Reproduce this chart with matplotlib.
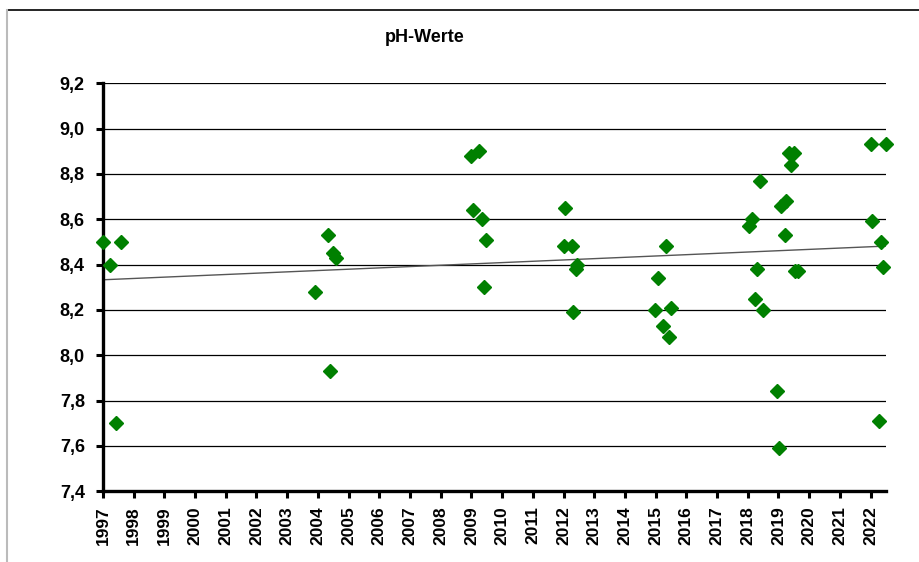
import numpy as np
import matplotlib.pyplot as plt
from matplotlib.lines import Line2D

# pH-Werte, Messzeitpunkte als Dezimaljahre
jahre = [1997.00, 1997.23, 1997.43, 1997.60,
         2003.90, 2004.33, 2004.39, 2004.50, 2004.59,
         2008.99, 2009.06, 2009.26, 2009.33, 2009.41, 2009.47,
         2012.02, 2012.06, 2012.27, 2012.32, 2012.41, 2012.45,
         2014.99, 2015.09, 2015.24, 2015.35, 2015.43, 2015.51,
         2018.05, 2018.14, 2018.23, 2018.30, 2018.41, 2018.49,
         2018.94, 2019.02, 2019.08, 2019.20, 2019.25, 2019.35, 2019.41,
         2019.52, 2019.55, 2019.65,
         2022.00, 2022.05, 2022.27, 2022.35, 2022.42, 2022.50]
ph = [8.50, 8.40, 7.70, 8.50,
      8.28, 8.53, 7.93, 8.45, 8.43,
      8.88, 8.64, 8.90, 8.60, 8.30, 8.51,
      8.48, 8.65, 8.48, 8.19, 8.38, 8.40,
      8.20, 8.34, 8.13, 8.48, 8.08, 8.21,
      8.57, 8.60, 8.25, 8.38, 8.77, 8.20,
      7.84, 7.59, 8.66, 8.53, 8.68, 8.89, 8.84,
      8.89, 8.37, 8.37,
      8.93, 8.59, 7.71, 8.50, 8.39, 8.93]

x_ticks = list(range(1997, 2023))
y_ticks = [7.4, 7.6, 7.8, 8.0, 8.2, 8.4, 8.6, 8.8, 9.0, 9.2]
y_labels = [f'{v:.1f}'.replace('.', ',') for v in y_ticks]

plt.rcParams['font.family'] = ['Liberation Sans', 'DejaVu Sans']

fig = plt.figure(figsize=(9.19, 5.62), dpi=100)
ax = fig.add_axes([0.112, 0.126, 0.852, 0.726])

# Rahmen des Diagrammbereichs
fig.add_artist(Line2D([7/919, 1], [1 - 10/562, 1 - 10/562], color='black', lw=1.2))
fig.add_artist(Line2D([7/919, 7/919], [0, 1 - 10/562], color='#bbbbbb', lw=1.5))

for y in y_ticks[1:]:
    ax.axhline(y, color='black', lw=0.9, zorder=1)

# lineare Trendlinie
k, d = np.polyfit(jahre, ph, 1)
xl = np.array([1997, 2022.5])
ax.plot(xl, k * xl + d, color='#555555', lw=1.0, zorder=2)

ax.plot(jahre, ph, linestyle='none', marker='D', markersize=7.2,
        color='#008000', zorder=3, clip_on=False)

ax.set_xlim(1997, 2022.5)
ax.set_ylim(7.4, 9.2)
ax.set_xticks(x_ticks)
ax.set_xticklabels([str(j) for j in x_ticks], rotation=90, fontsize=12.5, fontweight='bold')
ax.set_yticks(y_ticks)
ax.set_yticklabels(y_labels, fontsize=13, fontweight='bold')

for s in ['top', 'right']:
    ax.spines[s].set_visible(False)
for s in ['left', 'bottom']:
    ax.spines[s].set_linewidth(2.4)
ax.tick_params(axis='both', direction='out', length=5, width=2.2)
ax.tick_params(axis='y', pad=8)
ax.tick_params(axis='x', pad=6)

fig.text(0.462, 1 - 38/562, 'pH-Werte', ha='center', va='center',
         fontsize=13, fontweight='bold')

plt.savefig('out.png', dpi=100)
